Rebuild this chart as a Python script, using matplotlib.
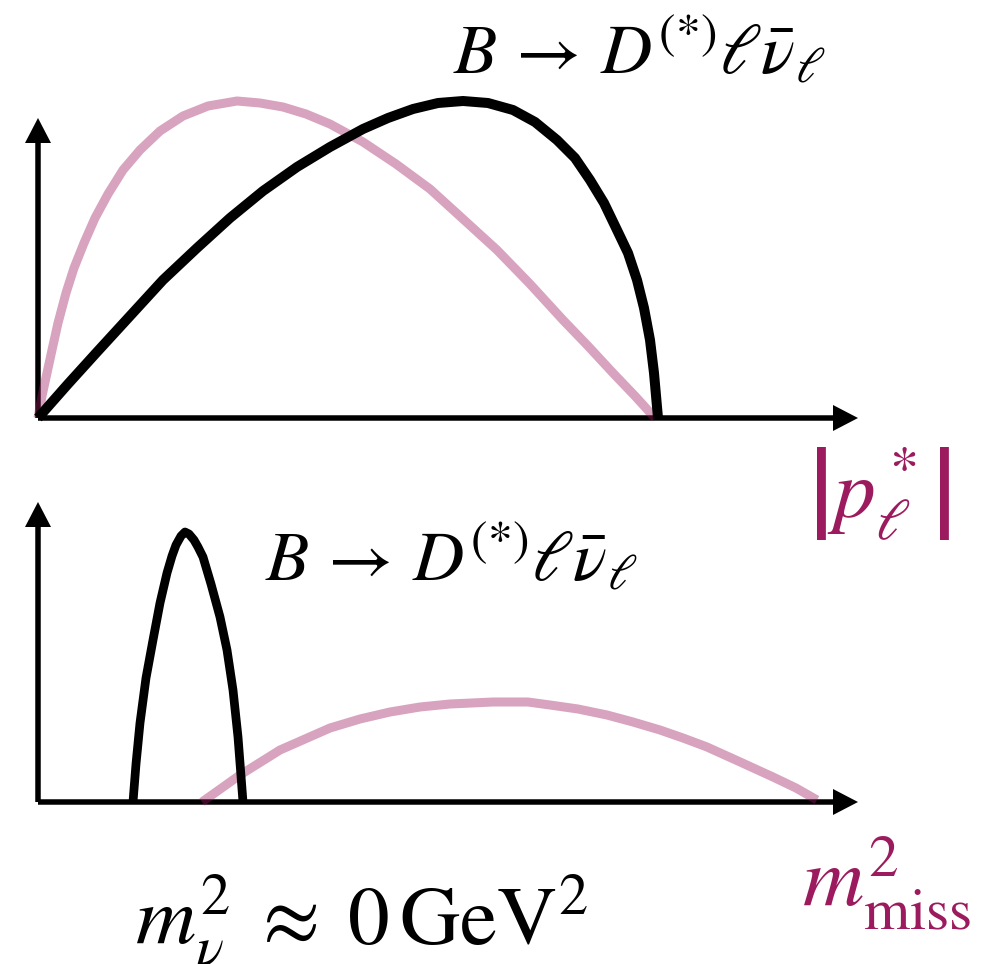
import matplotlib.pyplot as plt
import numpy as np

plt.rcParams['mathtext.fontset'] = 'stix'
plt.rcParams['font.family'] = 'STIXGeneral'

# colours
dark = '#9C1B5E'

# spectra, arbitrary units (x along the axis, y height above it)
# top panel: lepton momentum
p_sig_x = [0, 30, 59, 92, 125, 159, 192, 225, 259, 292, 325, 350, 375, 400, 425,
           450, 475, 497, 519, 537, 552, 566, 579, 590, 599, 606, 612, 616, 620]
p_sig_y = [0, 34, 66, 102, 138, 170, 200, 227, 251, 271, 289, 300, 309, 315, 317,
           315, 308, 296, 278, 260, 238, 215, 188, 165, 138, 110, 78, 45, 0]
p_bkg_x = [0, 4, 9, 14, 20, 28, 36, 46, 57, 70, 85, 102, 122, 145, 170, 199,
           222, 245, 268, 292, 325, 358, 392, 425, 459, 492, 525, 550, 575, 597, 617]
p_bkg_y = [0, 22, 45, 68, 95, 125, 150, 175, 200, 224, 248, 268, 287, 302, 312, 317,
           315, 311, 304, 294, 276, 254, 229, 199, 168, 134, 98, 72, 45, 22, 0]

# bottom panel: missing mass squared
m_sig_x = [95, 98, 102, 108, 115, 122, 129, 134, 138, 143, 147, 151, 156, 160, 165,
           173, 182, 189, 195, 200, 205]
m_sig_y = [0, 38, 79, 124, 162, 199, 229, 246, 257, 266, 270, 268, 262, 255, 245,
           218, 185, 152, 112, 65, 0]
m_bkg_x = [164, 202, 242, 292, 322, 352, 382, 412, 455, 490, 512, 540, 569, 595, 622,
           645, 669, 700, 735, 758, 779]
m_bkg_y = [0, 27, 52, 74, 83, 90, 95, 98, 100, 100, 97, 93, 87, 80, 72,
           64, 55, 41, 25, 14, 2]

W, H = 988, 964
fig = plt.figure(figsize=(W / 100, H / 100), dpi=100)


def panel(x0, y0):
    # axes with 1 unit = 1 pixel, origin at the arrow corner
    ax = fig.add_axes([0, 0, 1, 1])
    ax.set_xlim(-x0, W - x0)
    ax.set_ylim(-(H - y0), y0)
    ax.axis('off')
    ax.patch.set_alpha(0)
    ax.arrow(0, 0, 820, 0, width=5.5, head_width=26, head_length=25,
             length_includes_head=True, fc='k', ec='none', zorder=1)
    ax.arrow(0, 0, 0, 300, width=5.5, head_width=26, head_length=25,
             length_includes_head=True, fc='k', ec='none', zorder=1)
    return ax


decay = r'$B \,\rightarrow\, D^{(*)}\ell\bar{\nu}_\ell$'
line_kw = dict(solid_capstyle='butt', solid_joinstyle='round')

top = panel(38, 418)
top.plot(p_bkg_x, p_bkg_y, color=dark, alpha=0.4, lw=6.5, zorder=2, **line_kw)
top.plot(p_sig_x, p_sig_y, color='k', lw=7.2, zorder=3, **line_kw)
top.text(415, 345, decay, fontsize=51, ha='left', va='baseline')
top.text(769, -100, r'$\left|p^*_\ell\right|$', fontsize=60, color=dark,
         ha='left', va='baseline')

bot = panel(38, 802)
bot.plot(m_bkg_x, m_bkg_y, color=dark, alpha=0.4, lw=6.5, zorder=2, **line_kw)
bot.plot(m_sig_x, m_sig_y, color='k', lw=6.3, zorder=3, **line_kw)
bot.text(227, 222, decay, fontsize=51, ha='left', va='baseline')
bot.text(764, -105, r'$m^2_{\rm miss}$', fontsize=61, color=dark,
         ha='left', va='baseline')
bot.text(97, -143, r'$m_\nu^2 \;\approx\; 0\,\mathrm{GeV}^2$', fontsize=60,
         ha='left', va='baseline')

fig.savefig('out.png', dpi=100)
